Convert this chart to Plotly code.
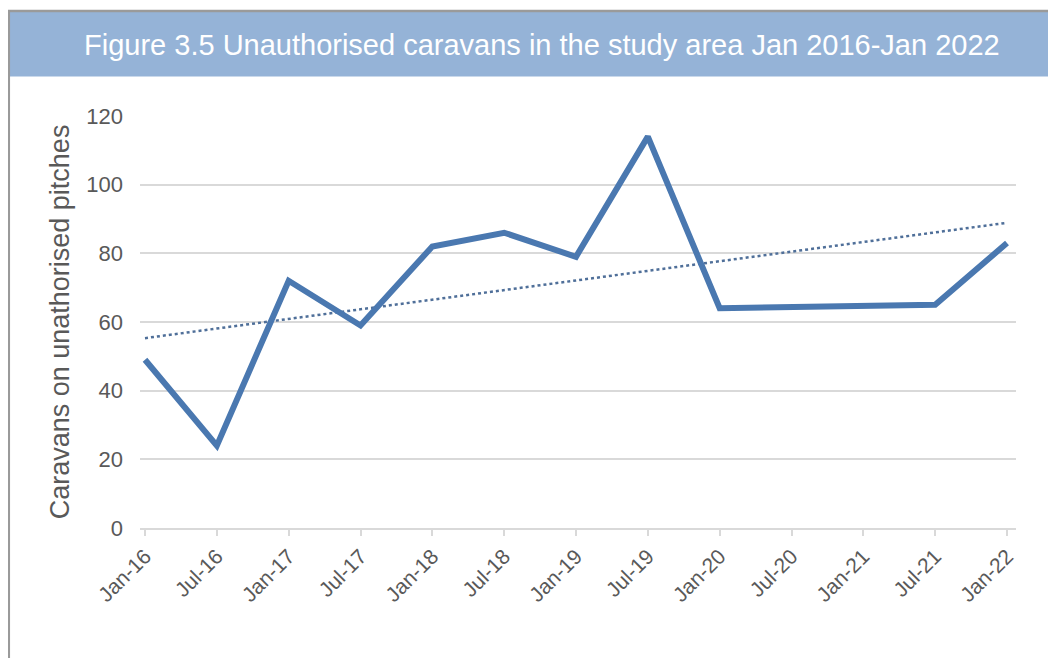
import plotly.graph_objects as go

# ---- data ----
categories = ["Jan-16", "Jul-16", "Jan-17", "Jul-17", "Jan-18", "Jul-18", "Jan-19",
              "Jul-19", "Jan-20", "Jul-20", "Jan-21", "Jul-21", "Jan-22"]
caravans = [49, 24, 72, 59, 82, 86, 79, 114, 64, 64.3, 64.6, 65, 83]
trend_ends = [55.3, 88.9]   # linear trendline at Jan-16 and Jan-22
y_ticks = [0, 20, 40, 60, 80, 100, 120]

title_text = "Figure 3.5 Unauthorised caravans in the study area Jan 2016-Jan 2022"
y_title = "Caravans on unathorised pitches"

W, H = 1056, 658
FONT = "Arial, Liberation Sans, sans-serif"
x_idx = list(range(len(categories)))

# plot-area pixel box (figure coordinates)
L, R, T, B = 132, 1008, 108, 520


def px(x):
    return (x - L) / (R - L)


def py(y):
    return (B - y) / (B - T)


fig = go.Figure()
fig.add_trace(go.Scatter(
    x=[x_idx[0], x_idx[-1]], y=trend_ends, mode="lines",
    line=dict(color="#4f6f99", width=2.5, dash="dot"),
    hoverinfo="skip", showlegend=False))
fig.add_trace(go.Scatter(
    x=x_idx, y=caravans, mode="lines",
    line=dict(color="#4a78b0", width=6, shape="linear"),
    showlegend=False))

first_px, last_px = 137, 999
px_per = (last_px - first_px) / 12.0
x0 = -(first_px - L) / px_per
x1 = 12 + (R - last_px) / px_per

fig.update_layout(
    width=W, height=H,
    paper_bgcolor="white", plot_bgcolor="white",
    margin=dict(l=L, r=W - R, t=T, b=H - B, pad=0),
    font=dict(family=FONT, color="#595959"),
    xaxis=dict(
        range=[x0, x1], tickmode="array", tickvals=x_idx, ticktext=categories,
        tickangle=-45, showgrid=False, zeroline=False,
        showline=True, linecolor="#d9d9d9", linewidth=1.5,
        ticks="outside", ticklen=6, tickcolor="#d9d9d9", tickwidth=1.5,
        tickfont=dict(size=21, color="#595959", family=FONT),
        fixedrange=True),
    yaxis=dict(
        range=[0, 120], tickmode="array", tickvals=y_ticks,
        showgrid=True, gridcolor="#d9d9d9", gridwidth=1.5,
        zeroline=False, showline=False, ticks="",
        ticklabelstandoff=16,
        tickfont=dict(size=22, color="#595959", family=FONT),
        title=dict(text=y_title, font=dict(size=27, color="#595959", family=FONT), standoff=8),
        fixedrange=True),
    shapes=[
        dict(type="rect", xref="paper", yref="paper",
             x0=px(2), x1=px(1060), y0=py(68.5), y1=py(4),
             fillcolor="#95b3d7", line=dict(width=0), layer="below"),
        dict(type="line", xref="paper", yref="paper",
             x0=px(0), x1=px(1060), y0=py(3), y1=py(3),
             line=dict(color="#9a9a9a", width=2.5)),
        dict(type="line", xref="paper", yref="paper",
             x0=px(0.8), x1=px(0.8), y0=py(2), y1=py(665),
             line=dict(color="#9a9a9a", width=2.5)),
    ],
    annotations=[dict(
        text=title_text, xref="paper", yref="paper",
        x=px(534), y=py(37),
        xanchor="center", yanchor="middle", showarrow=False,
        font=dict(size=29, color="white", family=FONT))],
)

fig.write_html("out.html")
